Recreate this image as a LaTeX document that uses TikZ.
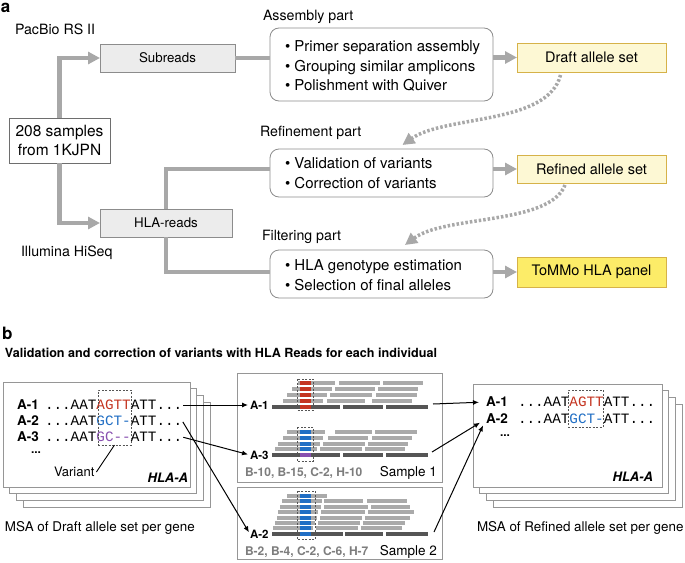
\documentclass[tikz,border=0pt]{standalone}
\usepackage{fontspec}
\setmainfont{TeX Gyre Heros}
\setmonofont{Liberation Mono}
\usetikzlibrary{arrows.meta,calc}
\definecolor{lg}{RGB}{168,168,168}
\definecolor{bd}{RGB}{140,140,140}
\definecolor{dbd}{RGB}{110,110,110}
\definecolor{boxg}{RGB}{236,236,236}
\definecolor{ylt}{RGB}{253,248,212}
\definecolor{yhi}{RGB}{252,236,104}
\definecolor{ybd}{RGB}{214,178,72}
\definecolor{rdc}{RGB}{196,52,32}
\definecolor{blc}{RGB}{32,110,196}
\definecolor{ppc}{RGB}{136,80,176}
\definecolor{readc}{RGB}{170,170,170}
\definecolor{refc}{RGB}{85,85,85}
\definecolor{labg}{RGB}{125,125,125}
\definecolor{cardb}{RGB}{150,150,150}
\newcommand\fs[2]{\fontsize{#1}{#2}\selectfont}
\newcommand\rrow[3]{\foreach \xa/\xb in {#3} {\fill[#1] (\xa,#2-2) rectangle (\xb,#2+2);}}
\begin{document}
\begin{tikzpicture}[x=1pt,y=-1pt,
  every node/.style={inner sep=0pt,outer sep=0pt},
  graybox/.style={draw=bd,fill=boxg,line width=0.8pt,font=\fs{13.3}{16}},
  whitebox/.style={draw=dbd,fill=white,line width=0.8pt,font=\fs{15.5}{19},align=center},
  rbox/.style={draw=bd,fill=white,line width=0.8pt,rounded corners=9pt},
  ybox/.style={draw=ybd,line width=0.8pt,font=\fs{14.5}{17}},
  btext/.style={anchor=west,align=left,font=\fs{15}{19.5}},
  plab/.style={anchor=west,font=\fs{14.2}{17}},
  gline/.style={draw=lg,line width=4.5pt},
  garrow/.style={gline,-{Triangle[length=12pt,width=12pt]}},
  dotarrow/.style={draw=lg,line width=3.5pt,dash pattern=on 2.5pt off 2pt,-{Triangle[length=12pt,width=12pt]}},
  bline/.style={draw=black,line width=1pt,-{Latex[length=6pt,width=5pt]}},
  card/.style={draw=cardb,fill=white,line width=0.8pt},
  seq/.style={anchor=west,font=\ttfamily\fs{14.3}{16}},
  mlab/.style={anchor=west,font=\bfseries\fs{13.5}{16}},
  slab/.style={anchor=west,font=\bfseries\fs{11.5}{14}},
  glab/.style={anchor=west,font=\bfseries\fs{12}{14},text=labg},
  sname/.style={anchor=east,font=\fs{13.5}{16}},
  vbox/.style={draw=refc,line width=0.6pt,dash pattern=on 2pt off 1.5pt},
  capt/.style={anchor=west,font=\fs{13.4}{16}},
  panel/.style={anchor=west,font=\bfseries\fs{17}{20}}
]
\useasboundingbox (0,0) rectangle (685,562);

% ---------------- panel a ----------------
\node[panel] (pa) at (1,8) {a};
\node[plab] (pacbio) at (15,29) {PacBio RS II};
\node[plab] (illu) at (21,253) {Illumina HiSeq};
\node[plab] (asml) at (263,17) {Assembly part};
\node[plab] (refl) at (260,133) {Refinement part};
\node[plab] (filtl) at (262,237) {Filtering part};

\node[whitebox,minimum width=101,minimum height=45] (s208) at (59.5,140.5) {208 samples\\from 1KJPN};
\node[graybox,minimum width=135,minimum height=28] (sub) at (167.5,58) {Subreads};
\node[graybox,minimum width=132,minimum height=28] (hla) at (166,223) {HLA-reads};

\node[rbox,minimum width=223,minimum height=73] (asm) at (381.5,64.5) {};
\node[rbox,minimum width=223,minimum height=48] (refbox) at (381.5,173) {};
\node[rbox,minimum width=223,minimum height=48] (filt) at (381.5,274) {};
\node[btext] (asmt) at (285,66) {\textbullet\ Primer separation assembly\\\textbullet\ Grouping similar amplicons\\\textbullet\ Polishment with Quiver};
\node[btext] (reft) at (285,173) {\textbullet\ Validation of variants\\\textbullet\ Correction of variants};
\node[btext] (filtt) at (285,275) {\textbullet\ HLA genotype estimation\\\textbullet\ Selection of final alleles};

\node[ybox,fill=ylt,minimum width=149,minimum height=29] (draft) at (591.5,57.5) {Draft allele set};
\node[ybox,fill=ylt,minimum width=149,minimum height=28] (refined) at (591.5,169) {Refined allele set};
\node[ybox,fill=yhi,minimum width=149,minimum height=30] (tommo) at (591.5,272) {ToMMo HLA panel};

\draw[garrow] (s208.north) |- (sub.west);
\draw[garrow] (s208.south) |- (hla.west);
\draw[gline] (sub.east) -- (sub.east -| asm.west);
\draw[gline] (hla.north) |- (refbox.west |- refined.west);
\draw[gline] (hla.south) |- (filt.west |- tommo.west);
\draw[garrow] (asm.east |- draft.west) -- (draft.west);
\draw[garrow] (refbox.east |- refined.west) -- (refined.west);
\draw[garrow] (filt.east |- tommo.west) -- (tommo.west);

\coordinate (dA) at ($(draft.south)+(-31,3)$);
\coordinate (dB) at ($(refbox.north)+(21,-4)$);
\draw[dotarrow] (dA) .. controls (548,125) and (445,115) .. (dB);
\coordinate (dC) at ($(refined.south)+(-26.5,2)$);
\coordinate (dD) at ($(filt.north)+(23.5,-5)$);
\draw[dotarrow] (dC) .. controls (550,225) and (445,215) .. (dD);

% ---------------- panel b ----------------
\node[panel] (pb) at (2,333) {b};
\node[anchor=west,font=\bfseries\fs{12.6}{15}] (title) at (5,353) {Validation and correction of variants with HLA Reads for each individual};

% left card stack
\foreach \k in {3,2,1} {\draw[card] (3+6.7*\k,382+6.7*\k) rectangle (190+6.7*\k,487+6.7*\k);}
\draw[card] (3,382) rectangle (190,487);
\node[mlab] (la1) at (17,405) {A-1};
\node[mlab] (la2) at (17,421) {A-2};
\node[mlab] (la3) at (17,437) {A-3};
\node[seq] (l1) at (45,405) {...AAT\textcolor{rdc}{AGTT}ATT...};
\node[seq] (l2) at (45,421) {...AAT\textcolor{blc}{GCT-}ATT...};
\node[seq] (l3) at (45,437) {...AAT\textcolor{ppc}{GC-{}-}ATT...};
\node[anchor=west,font=\bfseries\fs{12}{14}] (ldots) at (31,453) {...};
\node[vbox,minimum width=33,minimum height=55] (vL) at (114.5,417.5) {};
\node[anchor=west,font=\fs{13}{15}] (var) at (54,472) {Variant};
\draw[line width=0.9pt] ($(var.east)+(2,0)$) -- (vL.south);
\node[anchor=east,font=\bfseries\itshape\fs{13}{15}] (hlaL) at (188,478) {HLA-A};
\node[capt] (capL) at (5,528) {MSA of Draft allele set per gene};

% right card stack
\foreach \k in {3,2,1} {\draw[card] (473+6.7*\k,384+6.7*\k) rectangle (662+6.7*\k,487+6.7*\k);}
\draw[card] (473,384) rectangle (662,487);
\node[mlab] (r1) at (486,402) {A-1};
\node[mlab] (r2) at (486,419) {A-2};
\node[seq] (rs1) at (518,402) {...AAT\textcolor{rdc}{AGTT}ATT...};
\node[seq] (rs2) at (518,419) {...AAT\textcolor{blc}{GCT-}ATT...};
\node[anchor=west,font=\bfseries\fs{12}{14}] (rdots) at (500,436) {...};
\node[vbox,minimum width=35,minimum height=37] (vR) at (585.5,408.5) {};
\node[anchor=east,font=\bfseries\itshape\fs{13}{15}] (hlaR) at (653,477) {HLA-A};
\node[capt] (capR) at (477,528) {MSA of Refined allele set per gene};

% sample boxes
\node[draw=cardb,line width=0.8pt,minimum width=205,minimum height=109] (s1box) at (339.5,427.5) {};
\node[draw=cardb,line width=0.8pt,minimum width=205,minimum height=72] (s2box) at (339.5,523) {};

% sample 1, A-1
\rrow{readc}{383}{298/335,339/380,383/423}
\rrow{readc}{389}{292/332,335/375,378/418}
\rrow{readc}{395}{287/327,330/372,376/417}
\rrow{readc}{401}{283/323,327/365,372/412}
\rrow{refc}{406.5}{272/340,343/383,386/428}
\foreach \yy in {383,389,395,401,406.5} {\fill[rdc] (300,\yy-2) rectangle (311,\yy+2);}
\draw[vbox] (297,379) rectangle (313,410);
% sample 1, A-3
\rrow{readc}{432}{287/325,335/372,375/417}
\rrow{readc}{438}{283/323,328/368,372/412}
\rrow{readc}{443.5}{278/320,323/365,368/408}
\rrow{readc}{449}{275/317,320/362,365/405}
\rrow{refc}{455}{272/340,343/383,386/428}
\foreach \yy in {432,438,443.5,449} {\fill[blc] (300,\yy-2) rectangle (311,\yy+2);}
\fill[ppc] (300,453) rectangle (311,457);
\draw[vbox] (297,427) rectangle (313,461);
% sample 2, A-2
\rrow{readc}{496}{287/327}
\rrow{readc}{501.4}{282/322,324/363,367/407}
\rrow{readc}{506.8}{280/321,324/368,371/410}
\rrow{readc}{512.2}{278/318,321/365,368/414}
\rrow{readc}{517.6}{277/317,320/362,365/410}
\rrow{readc}{523}{275/315,318/360,363/405}
\rrow{readc}{528.4}{273/313,316/358,361/402}
\rrow{refc}{534}{272/343,345/383,386/428}
\foreach \yy in {496,501.4,506.8,512.2,517.6,523,528.4,534} {\fill[blc] (300,\yy-2) rectangle (311,\yy+2);}
\draw[vbox] (297,491) rectangle (315,539);

\node[slab] (m1) at (250,405) {A-1};
\node[slab] (m3) at (250,455) {A-3};
\node[slab] (m2) at (250,534) {A-2};
\node[glab] (g1) at (245,473) {B-10, B-15, C-2, H-10};
\node[sname] (n1) at (437,473) {Sample 1};
\node[glab] (g2) at (245,552) {B-2, B-4, C-2, C-6, H-7};
\node[sname] (n2) at (437,552) {Sample 2};

\coordinate (e1) at (433,404);
\coordinate (e3) at (432,452);
\coordinate (e2) at (434,532);

\draw[bline,shorten <=1pt,shorten >=2pt] (l1.east) -- (m1.west);
\draw[bline,shorten <=1pt,shorten >=2pt] (l3.east) -- (m3.west);
\draw[bline,shorten <=1pt,shorten >=2pt] (l2.east) -- (m2.west);
\draw[bline,shorten >=7pt] (e1) -- (r1.west);
\draw[bline,shorten >=7pt] (e3) -- (r2.west);
\draw[bline,shorten >=7pt] (e2) -- (r2.west);
\end{tikzpicture}
\end{document}
